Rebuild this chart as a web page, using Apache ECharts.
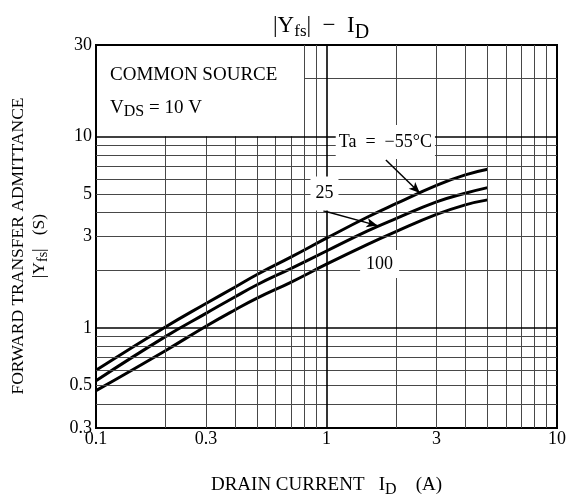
<!DOCTYPE html>
<html><head><meta charset="utf-8">
<script src="https://cdn.jsdelivr.net/npm/echarts@6/dist/echarts.min.js"></script>
<style>html,body{margin:0;padding:0;background:#fff}#c{width:567px;height:496px}</style>
</head><body><div id="c"></div>
<script>
// ---- data ----
const drainCurrent = [0.1, 0.2, 0.3, 0.4, 0.5, 0.7, 1, 1.5, 2, 3, 4, 5];
const yfsTaM55 = [0.60, 1.01, 1.34, 1.63, 1.90, 2.34, 2.94, 3.78, 4.45, 5.55, 6.29, 6.73];
const yfsTa25  = [0.53, 0.90, 1.19, 1.45, 1.68, 2.04, 2.52, 3.20, 3.72, 4.55, 5.05, 5.40];
const yfsTa100 = [0.47, 0.76, 1.02, 1.24, 1.43, 1.73, 2.15, 2.72, 3.18, 3.91, 4.39, 4.66];
const xTickLabels = [0.1, 0.3, 1, 3, 10];
const yTickLabels = [0.3, 0.5, 1, 3, 5, 10, 30];
const xGridMinor = [0.2, 0.3, 0.4, 0.5, 0.6, 0.7, 0.8, 0.9, 2, 3, 4, 5, 6, 7, 8, 9];
const xGridMajor = [1];
const yGridMinor = [0.4, 0.5, 0.6, 0.7, 0.8, 0.9, 2, 3, 4, 5, 6, 7, 8, 9, 20];
const yGridMajor = [1, 10];
const seriesNames = ['Ta = −55°C', '25', '100'];

const FONT = 'Liberation Serif';
const X_MIN = 0.1, X_MAX = 10, Y_MIN = 0.3, Y_MAX = 30;
// the "COMMON SOURCE" note keeps the upper-left cell free of grid lines
const noteBoxXEdge = 0.8, noteBoxYEdge = 10;

const chart = echarts.init(document.getElementById('c'), null, {renderer: 'canvas'});
function pair(a, b) { return a.map((v, i) => [v, b[i]]); }

const minorStyle = {color: '#484848', width: 1, type: 'solid'};
const majorStyle = {color: '#000', width: 1.6, type: 'solid'};
const gridLines = [];
xGridMinor.forEach(v => {
  if (v < noteBoxXEdge) gridLines.push([{coord: [v, Y_MIN], lineStyle: minorStyle}, {coord: [v, noteBoxYEdge]}]);
  else gridLines.push({xAxis: v, lineStyle: minorStyle});
});
yGridMinor.forEach(v => {
  if (v > noteBoxYEdge) gridLines.push([{coord: [noteBoxXEdge, v], lineStyle: minorStyle}, {coord: [X_MAX, v]}]);
  else gridLines.push({yAxis: v, lineStyle: minorStyle});
});
xGridMajor.forEach(v => gridLines.push({xAxis: v, lineStyle: majorStyle}));
yGridMajor.forEach(v => gridLines.push({yAxis: v, lineStyle: majorStyle}));

const curveStyle = {color: '#000', width: 3};
const txt = (size, extra) => Object.assign({fontFamily: FONT, fontSize: size, color: '#000', fontWeight: 'normal'}, extra || {});

const option = {
  animation: false,
  backgroundColor: '#fff',
  title: {
    text: '{m||Y}{s|fs}{m||  −  I}{d|D}',
    left: 268, top: 4,
    textStyle: {
      fontWeight: 'normal', fontFamily: FONT,
      rich: {
        m: txt(23),
        s: txt(17, {padding: [12, 0, 0, 0]}),
        d: txt(20, {padding: [14, 0, 0, 0]})
      }
    }
  },
  grid: {left: 96, top: 45, right: 10, bottom: 68, show: true, borderColor: '#000', borderWidth: 2,
         backgroundColor: 'transparent', containLabel: false, outerBoundsMode: 'none'},
  xAxis: {
    type: 'log', logBase: 10, min: X_MIN, max: X_MAX,
    axisLine: {show: false}, axisTick: {show: false}, splitLine: {show: false}, minorSplitLine: {show: false},
    axisLabel: {customValues: xTickLabels, fontFamily: FONT, fontSize: 18, color: '#000', margin: 2},
    name: 'DRAIN CURRENT   {m|I}{s|D}    (A)', nameLocation: 'middle', nameGap: 44,
    nameTextStyle: Object.assign(txt(19), {rich: {m: txt(19), s: txt(16, {padding: [10, 0, 0, 0]})}})
  },
  yAxis: {
    type: 'log', logBase: 10, min: Y_MIN, max: Y_MAX,
    axisLine: {show: false}, axisTick: {show: false}, splitLine: {show: false}, minorSplitLine: {show: false},
    axisLabel: {customValues: yTickLabels, fontFamily: FONT, fontSize: 18, color: '#000', margin: 4}
  },
  graphic: [
    {type: 'text', left: 110, top: 66, z: 100, style: {text: 'COMMON SOURCE', fontFamily: FONT, fontSize: 19, fill: '#000'}},
    {type: 'text', left: 110, top: 99, z: 100, style: {
      text: '{m|V}{s|DS}{m| = 10 V}',
      rich: {m: {fontFamily: FONT, fontSize: 19, fill: '#000'}, s: {fontFamily: FONT, fontSize: 16, fill: '#000', padding: [6, 0, 0, 0]}}}},
    {type: 'text', x: 29, y: 246, rotation: Math.PI / 2, z: 100, style: {
      text: '{m|FORWARD TRANSFER ADMITTANCE}\n{m||Y}{s|fs}{m||   (S)}',
      align: 'center', verticalAlign: 'middle',
      rich: {m: {fontFamily: FONT, fontSize: 17.5, fill: '#000', lineHeight: 21, align: 'center'},
             s: {fontFamily: FONT, fontSize: 14, fill: '#000', padding: [8, 0, 0, 0], lineHeight: 21}}}}
  ],
  series: [
    {
      type: 'line', name: 'grid', data: [], z: 1, silent: true,
      markLine: {silent: true, symbol: ['none', 'none'], label: {show: false}, animation: false, lineStyle: minorStyle, data: gridLines}
    },
    {
      type: 'line', name: 'labels', data: [], z: 2, silent: true,
      markPoint: {
        silent: true, symbol: 'rect', symbolSize: 0,
        label: {show: true, position: 'inside', fontFamily: FONT, fontSize: 18, color: '#000', backgroundColor: '#fff'},
        data: [
          {coord: [1.80, 9.34], value: 0, label: {formatter: 'Ta  =  −55°C', padding: [8, 3, 8, 3]}},
          {coord: [0.98, 5.03], value: 0, label: {formatter: seriesNames[1], padding: [8, 5, 8, 5]}},
          {coord: [1.70, 2.156], value: 0, label: {formatter: seriesNames[2], padding: [5, 6, 5, 6]}}
        ]
      }
    },
    {type: 'line', name: seriesNames[0], data: pair(drainCurrent, yfsTaM55), smooth: 0.45, showSymbol: false, z: 3, lineStyle: curveStyle},
    {type: 'line', name: seriesNames[1], data: pair(drainCurrent, yfsTa25), smooth: 0.45, showSymbol: false, z: 3, lineStyle: curveStyle},
    {type: 'line', name: seriesNames[2], data: pair(drainCurrent, yfsTa100), smooth: 0.45, showSymbol: false, z: 3, lineStyle: curveStyle},
    {
      type: 'line', name: 'arrows', data: [], z: 4, silent: true,
      markLine: {
        silent: true, symbol: ['none', 'arrow'], symbolSize: [7, 11], label: {show: false},
        lineStyle: {color: '#000', width: 1.5, type: 'solid'},
        data: [
          [{coord: [1.81, 7.52]}, {coord: [2.54, 5.06]}],
          [{coord: [0.969, 4.09]}, {coord: [1.664, 3.42]}]
        ]
      }
    }
  ]
};
chart.setOption(option);
</script></body></html>
